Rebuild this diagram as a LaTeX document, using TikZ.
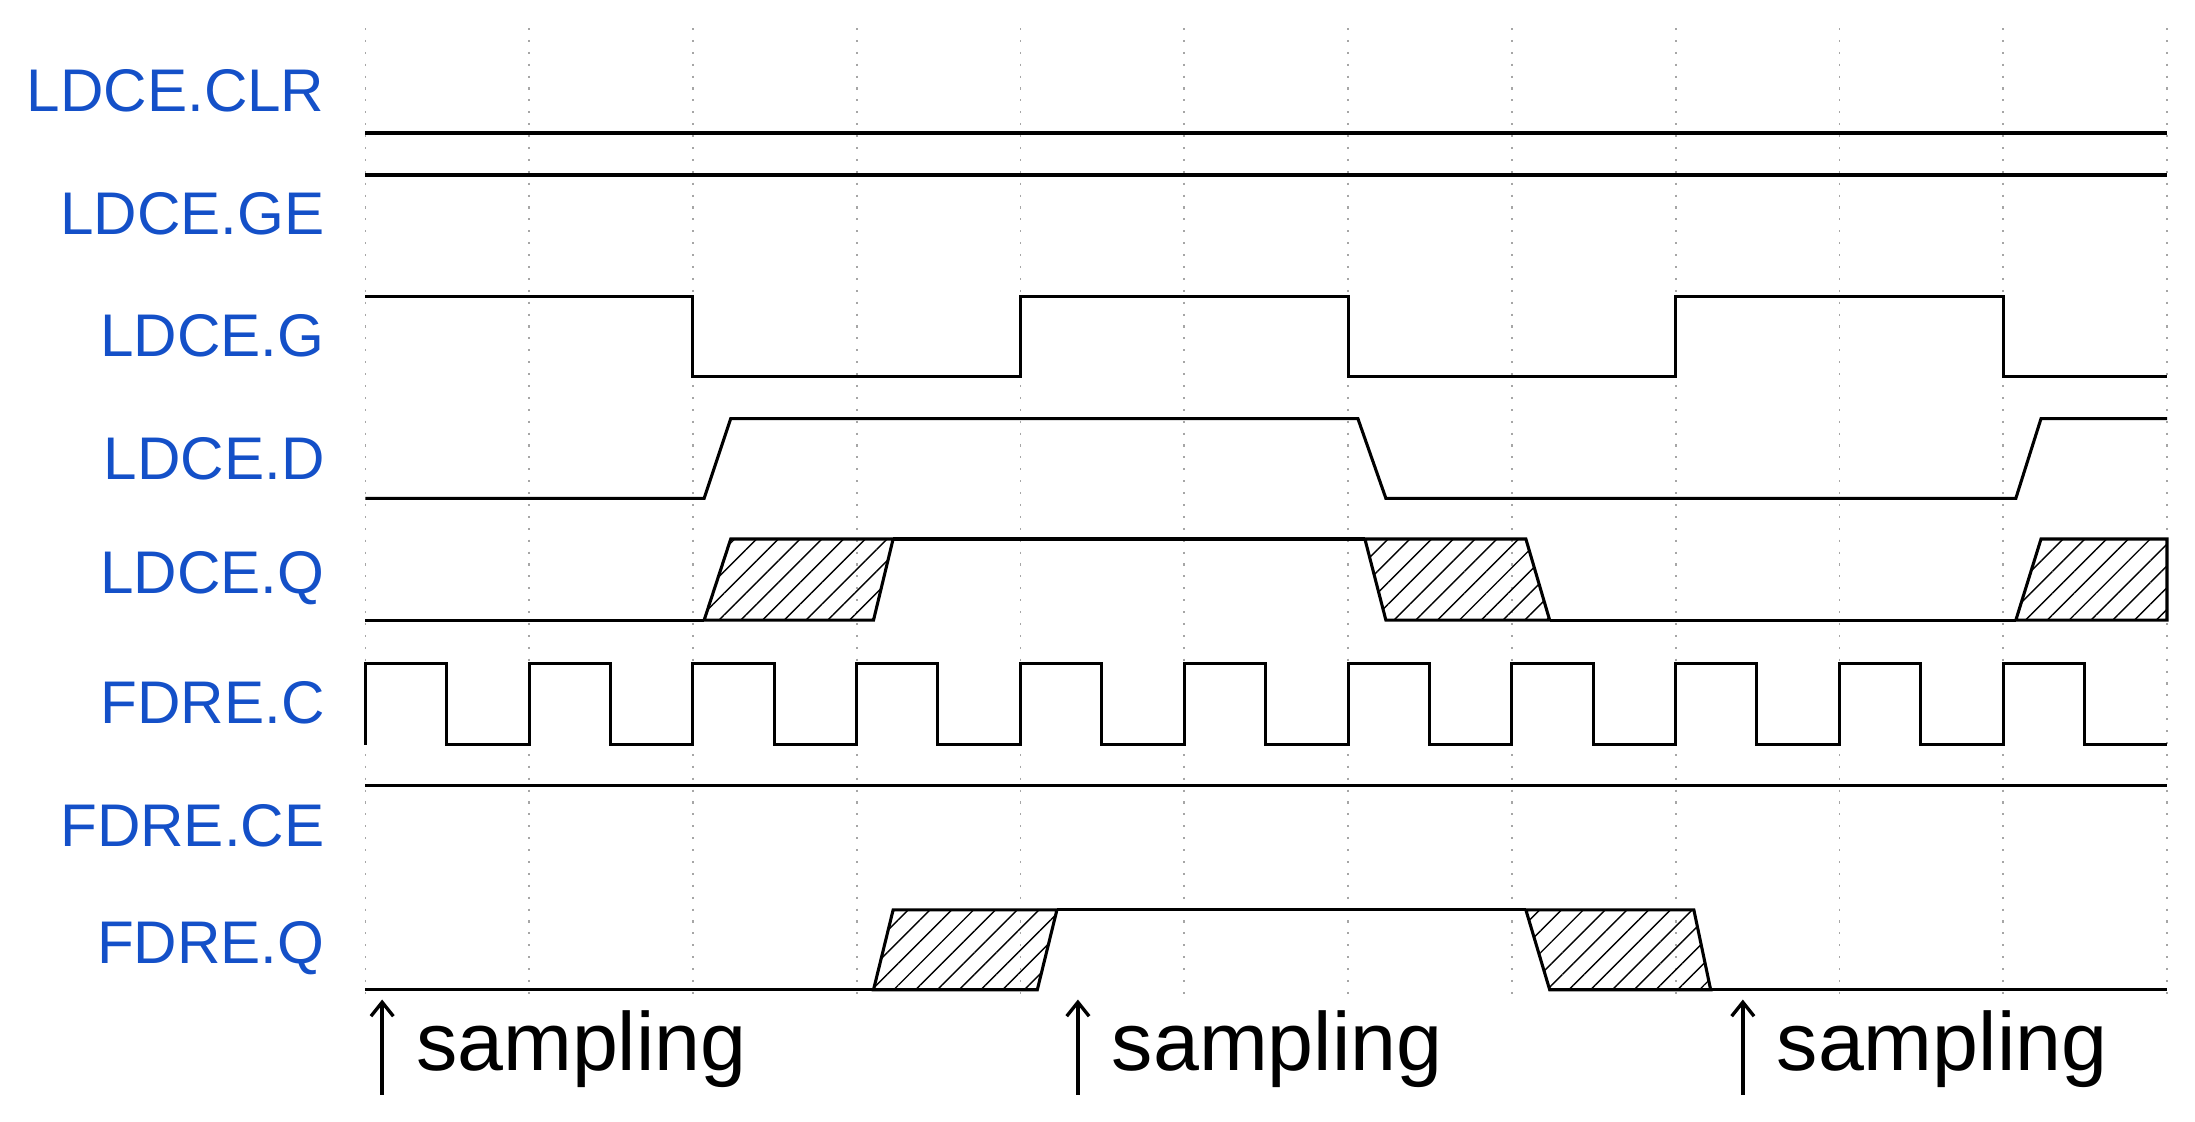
\documentclass[tikz,border=0pt]{standalone}
\usepackage{fontspec}
\setmainfont{Liberation Sans}
\usetikzlibrary{patterns.meta,arrows.meta}
\definecolor{lblue}{RGB}{20,80,200}
\begin{document}
\begin{tikzpicture}[x=1pt,y=-1pt,
  sig/.style={line width=2.2pt,line join=miter},
  lbl/.style={anchor=east,text=lblue,font=\fontsize{43}{43}\selectfont,inner sep=0pt},
  hatch/.style={line width=2.2pt,pattern={Lines[angle=45,distance=11pt,line width=1pt]}},
  grid/.style={gray!70,line width=1.2pt,dash pattern=on 1.5pt off 7pt},
  samp/.style={anchor=base west,font=\fontsize{59}{59}\selectfont,inner sep=0pt}]
\useasboundingbox (0,0) rectangle (1568,801);
\foreach \x in {261,378,495,612,729,846,963,1080,1197,1314,1431,1548}
  \draw[grid] (\x,20) -- (\x,712);
% labels
\node[lbl] (l1) at (232,65) {LDCE.CLR};
\node[lbl] (l2) at (232,153) {LDCE.GE};
\node[lbl] (l3) at (232,240) {LDCE.G};
\node[lbl] (l4) at (232,328) {LDCE.D};
\node[lbl] (l5) at (232,413) {LDCE.Q};
\node[lbl] (l6) at (232,502) {FDRE.C};
\node[lbl] (l7) at (232,590) {FDRE.CE};
\node[lbl] (l8) at (232,677) {FDRE.Q};
% CLR, GE, CE
\draw[sig] (261,95) -- (1548,95);
\draw[sig] (261,125) -- (1548,125);
\draw[sig] (261,561) -- (1548,561);
% G
\draw[sig] (261,212) -- (495,212) -- (495,269) -- (729,269) -- (729,212) -- (963,212) -- (963,269) -- (1197,269) -- (1197,212) -- (1431,212) -- (1431,269) -- (1548,269);
% D
\draw[sig] (261,356) -- (503,356) -- (522,299) -- (970,299) -- (990,356) -- (1440,356) -- (1458,299) -- (1548,299);
% LDCE.Q
\draw[hatch] (503,443) -- (522,385) -- (638,385) -- (624,443) -- cycle;
\draw[hatch] (975,385) -- (1090,385) -- (1107,443) -- (990,443) -- cycle;
\draw[hatch] (1440,443) -- (1458,385) -- (1548,385) -- (1548,443) -- cycle;
\draw[sig] (261,443) -- (503,443);
\draw[sig] (638,385) -- (975,385);
\draw[sig] (1107,443) -- (1440,443);
% clock
\draw[sig] (261,532) \foreach \k in {0,...,10} { -- ({261+117*\k},474) -- ({319+117*\k},474) -- ({319+117*\k},532) -- ({378+117*\k},532) } -- (1548,532);
% FDRE.Q
\draw[hatch] (624,707) -- (638,650) -- (755,650) -- (741,707) -- cycle;
\draw[hatch] (1090,650) -- (1210,650) -- (1222,707) -- (1107,707) -- cycle;
\draw[sig] (261,707) -- (624,707);
\draw[sig] (755,650) -- (1090,650);
\draw[sig] (1222,707) -- (1548,707);
% sampling
\foreach \x/\n in {273/a,770/b,1245/c}{
  \coordinate (s\n) at (\x,782);
  \coordinate (t\n) at (\x,714);
  \draw[line width=2.4pt,-{Straight Barb[length=10pt,width=16pt]}] (s\n) -- (t\n);
  \node[samp] (w\n) at (\x+24,765) {sampling};
}
\end{tikzpicture}
\end{document}
